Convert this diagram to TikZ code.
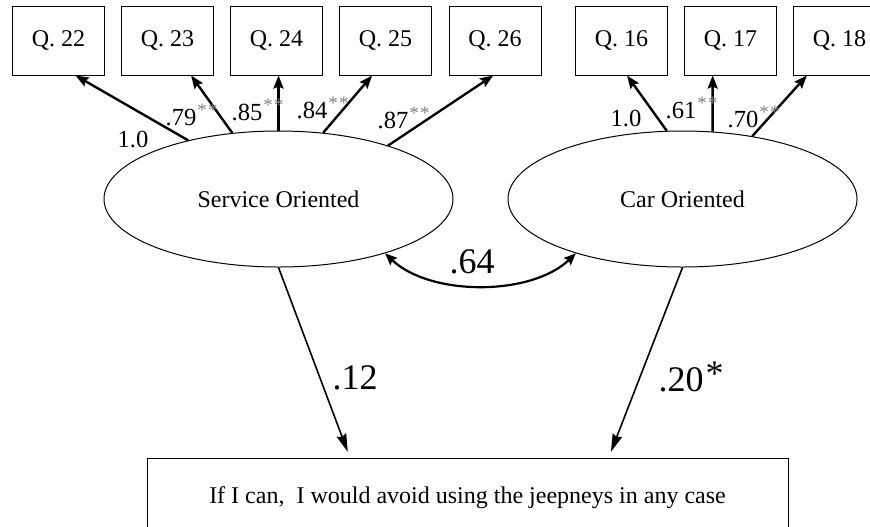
\documentclass[tikz,border=0pt]{standalone}
\usepackage{fontspec}
\setmainfont{Liberation Serif}
\usepackage{xcolor}
\usetikzlibrary{arrows.meta, calc, shapes.geometric}

\newcommand{\sigmark}{\rlap{\kern0.5pt\raisebox{4.5pt}{\fontsize{9.5}{10}\selectfont\textcolor{gray}{*\kern0.6pt*}}}}

\begin{document}
\begin{tikzpicture}[x=0.5pt, y=-0.5pt,
	qbox/.style={draw, line width=0.5pt, minimum width=46pt, minimum height=34.5pt, inner sep=0pt, font=\fontsize{12}{14}\selectfont},
	factor/.style={draw, ellipse, line width=0.5pt, minimum width=174.5pt, minimum height=68pt, inner sep=0pt, font=\fontsize{12}{14}\selectfont},
	outcome/.style={draw, line width=0.5pt, minimum width=320.5pt, minimum height=40pt, inner sep=0pt, font=\fontsize{12}{14}\selectfont},
	loading/.style={line width=1.2pt, -{Stealth[length=6.5pt, width=5pt, inset=1pt]}},
	effect/.style={line width=0.8pt, shorten >=3pt, -{Stealth[length=9pt, width=5pt, inset=1pt]}},
	corr/.style={line width=1.1pt, {Stealth[length=6pt, width=5pt, inset=1pt]}-{Stealth[length=6pt, width=5pt, inset=1pt]}},
	coef/.style={inner sep=0pt, font=\fontsize{12.3}{14}\selectfont},
	bigcoef/.style={inner sep=0pt, font=\fontsize{18}{20}\selectfont}]

	\clip (0,0) rectangle (870,526);

	% indicators
	\node[qbox] (q22) at (58.5,40.5) {Q. 22};
	\node[qbox] (q23) at (167.5,40.5) {Q. 23};
	\node[qbox] (q24) at (276.5,40.5) {Q. 24};
	\node[qbox] (q25) at (385.5,40.5) {Q. 25};
	\node[qbox] (q26) at (495,40.5) {Q. 26};
	\node[qbox] (q16) at (621.5,40.5) {Q. 16};
	\node[qbox] (q17) at (730.5,40.5) {Q. 17};
	\node[qbox] (q18) at (839.5,40.5) {Q. 18};

	% factors
	\node[factor] (so) at (278.5,199) {Service Oriented};
	\node[factor] (co) at (682.5,199) {Car Oriented};

	\node[outcome] (dv) at (467.5,498) {If I can,\ \ I would avoid using the jeepneys in any case};

	% loadings
	\draw[loading] (so.147) -- (q22.-64);
	\draw[loading] (so.125) -- (q23.-56.5);
	\draw[loading] (so.north) -- (so.north |- q24.south);
	\draw[loading] (so.56) -- (q25.-111.7);
	\draw[loading] (so.26.5) -- (q26.-93.4);
	\draw[loading] (co.103) -- (q16.-81);
	\draw[loading] (co.66) -- (q17.-117);
	\draw[loading] (co.42) -- (q18.-133.7);

	\node[coef] (l22) at (133,139) {1.0};
	\node[coef] (l23) at (181,115) {.79\sigmark};
	\node[coef] (l24) at (247,110) {.85\sigmark};
	\node[coef] (l25) at (312,108) {.84\sigmark};
	\node[coef] (l26) at (393,118) {.87\sigmark};
	\node[coef] (l16) at (626,118) {1.0};
	\node[coef] (l17) at (681,108) {.61\sigmark};
	\node[coef] (l18) at (743,117) {.70\sigmark};

	% structural part
	\draw[corr] (so.-27) .. controls +(45,43) and +(-45,43) .. (co.-153);
	\draw[effect] (so.south) -- (dv.161.6);
	\draw[effect] (co.south) -- (dv.16.7);

	\node[bigcoef] (l64) at (472,262) {.64};
	\node[bigcoef] (l12) at (355,378) {.12};
	\node[bigcoef] (l20) at (681,377) {.20\rlap{\kern1pt\raisebox{3pt}{*}}};
\end{tikzpicture}
\end{document}
